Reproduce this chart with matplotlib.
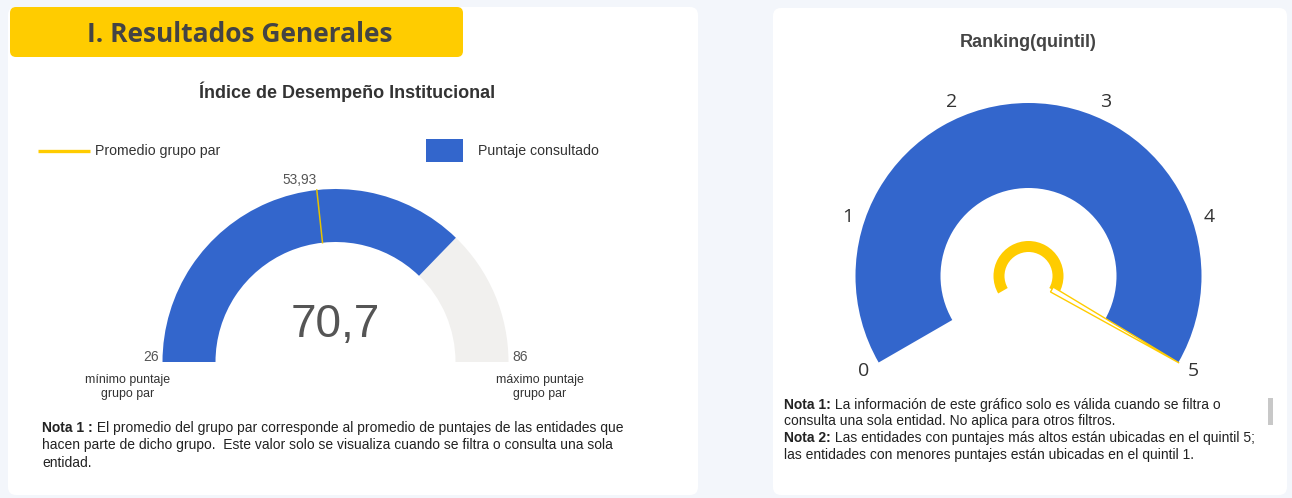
import matplotlib
matplotlib.use("Agg")
import matplotlib.pyplot as plt
from matplotlib.patches import Wedge, FancyBboxPatch, Rectangle, Polygon
import numpy as np

# datos del indice
idx_min = 26
idx_max = 86
idx_value = 70.7
idx_avg = 53.93

# datos del ranking (quintil)
q_ticks = [0, 1, 2, 3, 4, 5]
q_value = 5

BLUE = "#3366cc"
GREY = "#f1f0ee"
YELLOW = "#ffcc00"
BG = "#f3f6fb"
H = 498

fig = plt.figure(figsize=(12.92, 4.98), dpi=100, facecolor=BG)
ax = fig.add_axes([0, 0, 1, 1])
ax.set_xlim(0, 1292)
ax.set_ylim(0, H)
ax.set_aspect("equal")
ax.axis("off")
ax.set_facecolor(BG)


def Y(y):
    # coordenadas de pantalla -> coordenadas de ejes
    return H - y


def rich_line(x, y, bold, rest, size, color="#222222"):
    t = ax.text(x, Y(y), bold, fontsize=size, fontweight="bold", color=color,
                family="Liberation Sans", va="center", ha="left")
    fig.canvas.draw()
    bb = t.get_window_extent()
    x2 = ax.transData.inverted().transform((bb.x1, bb.y0))[0]
    ax.text(x2, Y(y), rest, fontsize=size, color=color,
            family="Liberation Sans", va="center", ha="left")


# paneles
ax.add_patch(FancyBboxPatch((8, Y(495)), 690, 488, boxstyle="round,pad=0,rounding_size=8",
                            fc="white", ec="none"))
ax.add_patch(FancyBboxPatch((773, Y(495)), 514, 487, boxstyle="round,pad=0,rounding_size=8",
                            fc="white", ec="none"))

# banner
ax.add_patch(FancyBboxPatch((10, Y(57)), 453, 50, boxstyle="round,pad=0,rounding_size=6",
                            fc=YELLOW, ec="none"))
ax.text(240, Y(34), "I. Resultados Generales", fontsize=19, fontweight="bold",
        color="#444444", family="Open Sans", ha="center", va="center")

# ---- gauge izquierdo ----
ax.text(347, Y(92), "Índice de Desempeño Institucional", fontsize=13, fontweight="bold",
        color="#333333", family="Liberation Sans", ha="center", va="center")

ax.plot([38, 90], [Y(151), Y(151)], color=YELLOW, lw=2.4, solid_capstyle="butt")
ax.text(95, Y(151), "Promedio grupo par", fontsize=10.2, color="#333333",
        family="Liberation Sans", va="center")
ax.add_patch(Rectangle((426, Y(162)), 37, 23, fc=BLUE, ec="none"))
ax.text(478, Y(151), "Puntaje consultado", fontsize=10.2, color="#333333",
        family="Liberation Sans", va="center")

cx, cy = 335.5, Y(362)
R, r = 173, 120


def ang(v):
    return 180 - 180 * (v - idx_min) / (idx_max - idx_min)


a_val = ang(idx_value)
ax.add_patch(Wedge((cx, cy), R, 0, a_val, width=R - r, fc=GREY, ec="none"))
ax.add_patch(Wedge((cx, cy), R, a_val, 180, width=R - r, fc=BLUE, ec="none"))
a_avg = np.deg2rad(ang(idx_avg))
ax.plot([cx + r * np.cos(a_avg), cx + R * np.cos(a_avg)],
        [cy + r * np.sin(a_avg), cy + R * np.sin(a_avg)], color="#e6c200", lw=1.1)
ax.text(cx + R * np.cos(a_avg), cy + (R + 3) * np.sin(a_avg),
        f"{idx_avg:.2f}".replace(".", ","), fontsize=9.8, color="#555555",
        family="Liberation Sans", ha="right", va="bottom")

ax.text(cx, Y(325), f"{idx_value}".replace(".", ","), fontsize=33, color="#555555",
        family="Liberation Sans", ha="center", va="center")
ax.text(159, Y(357), str(idx_min), fontsize=10, color="#555555",
        family="Liberation Sans", ha="right", va="center")
ax.text(512, Y(357), str(idx_max), fontsize=10, color="#555555",
        family="Liberation Sans", ha="left", va="center")
ax.text(128, Y(387), "mínimo puntaje\ngrupo par", fontsize=8.9, color="#333333",
        family="Liberation Sans", ha="center", va="center", linespacing=1.25)
ax.text(540, Y(387), "máximo puntaje\ngrupo par", fontsize=8.9, color="#333333",
        family="Liberation Sans", ha="center", va="center", linespacing=1.25)

rich_line(42, 428, "Nota 1 :", " El promedio del grupo par corresponde al promedio de puntajes de las entidades que", 10)
ax.text(42, Y(445), "hacen parte de dicho grupo.  Este valor solo se visualiza cuando se filtra o consulta una sola",
        fontsize=10, color="#222222", family="Liberation Sans", va="center")
ax.text(42, Y(463), "entidad.", fontsize=10, color="#222222", family="Liberation Sans", va="center")

# ---- gauge derecho ----
ax.text(1028, Y(42), "Ranking(quintil)", fontsize=13, fontweight="bold", color="#444444",
        family="Liberation Sans", ha="center", va="center")

qx, qy = 1028.5, Y(276)
QR, Qr = 173, 88


def qang(q):
    return 210 - 240 * (q - q_ticks[0]) / (q_ticks[-1] - q_ticks[0])


ax.add_patch(Wedge((qx, qy), QR, qang(q_value), qang(0), width=QR - Qr, fc=BLUE, ec="none"))
ax.add_patch(Wedge((qx, qy), 35, qang(q_value), qang(0), width=11, fc=YELLOW, ec="none"))

for q in q_ticks:
    a = np.deg2rad(qang(q))
    ax.text(qx + 190 * np.cos(a), qy + 190 * np.sin(a), str(q), fontsize=14,
            color="#333333", family="Open Sans", ha="center", va="center")

a = np.deg2rad(qang(q_value))
ux, uy = np.cos(a), np.sin(a)
px, py = -uy, ux
needle = [(qx + 27 * ux + 2.8 * px, qy + 27 * uy + 2.8 * py),
          (qx + 174 * ux, qy + 174 * uy),
          (qx + 27 * ux - 2.8 * px, qy + 27 * uy - 2.8 * py)]
ax.add_patch(Polygon(needle, closed=True, fc="white", ec=YELLOW, lw=1.0))

rich_line(784, 405, "Nota 1:", " La información de este gráfico solo es válida cuando se filtra o", 10)
ax.text(784, Y(421), "consulta una sola entidad. No aplica para otros filtros.",
        fontsize=10, color="#222222", family="Liberation Sans", va="center")
rich_line(784, 438, "Nota 2:", " Las entidades con puntajes más altos están ubicadas en el quintil 5;", 10)
ax.text(784, Y(455), "las entidades con menores puntajes están ubicadas en el quintil 1.",
        fontsize=10, color="#222222", family="Liberation Sans", va="center")
ax.add_patch(Rectangle((1268, Y(425)), 5, 27, fc="#c8c8c8", ec="none"))

fig.savefig("out.png", dpi=100, facecolor=BG)
